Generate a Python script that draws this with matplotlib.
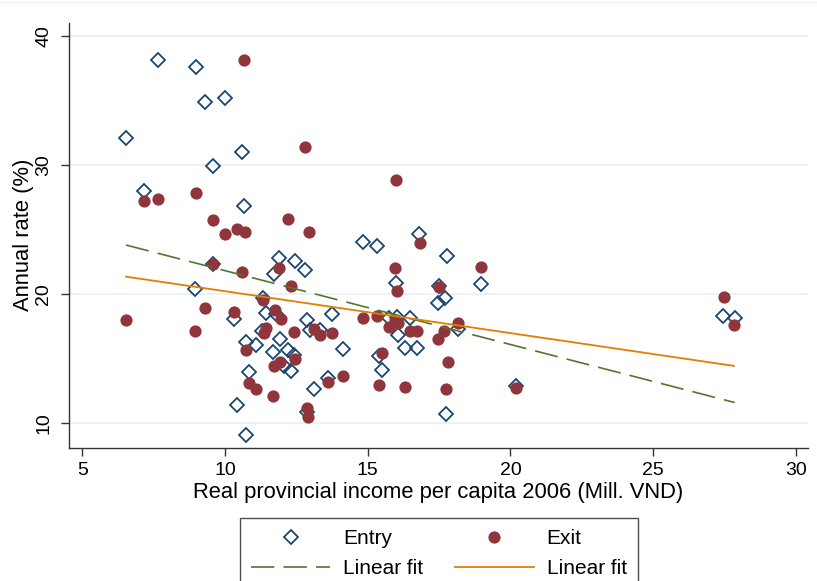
import numpy as np
import matplotlib
matplotlib.use('Agg')
import matplotlib.pyplot as plt
from matplotlib.lines import Line2D

plt.rcParams['font.family'] = ['Liberation Sans', 'DejaVu Sans']

# Entry rates (diamonds)
entry_x = [6.53, 7.64, 7.17, 8.97, 9.30, 9.98, 9.58, 10.59, 10.68, 8.94,
           9.58, 11.89, 12.44, 12.80, 11.72, 11.33, 11.44, 10.32, 12.86, 12.98,
           13.33, 13.73, 10.72, 11.09, 11.93, 11.69, 12.20, 12.43, 12.07, 12.32,
           10.84, 13.12, 10.43, 12.86, 10.73, 13.61, 14.85, 15.34, 16.81, 17.78,
           15.98, 17.48, 18.97, 17.70, 17.45, 16.02, 15.73, 16.48, 18.15, 16.07,
           14.12, 15.40, 16.31, 16.72, 15.51, 20.21, 17.74, 27.46, 27.86, 11.79,
           11.30]
entry_y = [32.09, 38.12, 28.02, 37.63, 34.89, 35.22, 29.96, 31.05, 26.85, 20.38,
           22.35, 22.81, 22.53, 21.82, 21.52, 19.66, 18.49, 18.07, 17.97, 17.23,
           17.23, 18.44, 16.29, 16.01, 16.51, 15.45, 15.61, 15.25, 14.37, 14.03,
           13.97, 12.63, 11.37, 10.81, 9.06, 13.47, 24.03, 23.70, 24.68, 22.97,
           20.82, 20.63, 20.75, 19.64, 19.32, 18.21, 18.13, 18.10, 17.30, 16.82,
           15.70, 15.15, 15.77, 15.78, 14.09, 12.84, 10.65, 18.26, 18.13, 18.44,
           17.12]

# Exit rates (filled circles)
exit_x = [10.68, 12.79, 8.97, 7.64, 7.17, 9.58, 12.21, 9.98, 10.43, 10.71,
          12.95, 6.53, 9.58, 10.59, 11.89, 12.31, 11.34, 9.29, 10.32, 11.76,
          11.97, 8.94, 11.45, 11.38, 12.40, 13.10, 13.31, 13.76, 10.73, 12.44,
          11.94, 11.70, 10.84, 11.09, 11.69, 13.61, 12.86, 12.89, 15.98, 16.82,
          15.96, 18.97, 16.01, 17.51, 14.85, 15.34, 15.96, 16.07, 15.76, 16.48,
          16.73, 18.15, 17.68, 17.47, 15.51, 17.80, 14.12, 15.40, 16.31, 17.74,
          20.21, 27.47, 27.83]
exit_y = [38.15, 31.41, 27.84, 27.37, 27.19, 25.77, 25.82, 24.63, 25.07, 24.79,
          24.77, 17.95, 22.30, 21.68, 21.99, 20.61, 19.55, 18.93, 18.62, 18.75,
          18.03, 17.14, 17.33, 16.94, 17.04, 17.25, 16.81, 16.99, 15.63, 14.94,
          14.71, 14.42, 13.06, 12.59, 12.05, 13.15, 11.17, 10.46, 28.85, 23.93,
          21.99, 22.07, 20.25, 20.51, 18.15, 18.26, 17.97, 17.72, 17.44, 17.12,
          17.12, 17.74, 17.13, 16.51, 15.37, 14.68, 13.64, 12.94, 12.79, 12.65,
          12.67, 19.78, 17.58]

xticks = [5, 10, 15, 20, 25, 30]
yticks = [10, 20, 30, 40]

navy = '#1a476f'
maroon = '#90353b'
green = '#55752f'
orange = '#e37e00'

W, H = 817, 581
fig = plt.figure(figsize=(W / 100, H / 100), dpi=100)
ax = fig.add_axes([69 / W, 1 - 448 / H, 739 / W, 425 / H])

for t in yticks:
    ax.axhline(t, color='#e6eef1', lw=1.1, zorder=0)

ax.plot(entry_x, entry_y, ls='none', marker='D', ms=6.8, mfc='none',
        mec=navy, mew=1.3, zorder=2)
ax.plot(exit_x, exit_y, ls='none', marker='o', ms=8.8, mfc=maroon,
        mec=maroon, mew=0, zorder=3)

ex = np.array(entry_x)
b1, a1 = np.polyfit(ex, entry_y, 1)
xs1 = np.array([ex.min(), ex.max()])
ax.plot(xs1, a1 + b1 * xs1, color=green, lw=1.2, ls=(0, (14, 5.5)), zorder=4)

xx = np.array(exit_x)
b2, a2 = np.polyfit(xx, exit_y, 1)
xs2 = np.array([xx.min(), xx.max()])
ax.plot(xs2, a2 + b2 * xs2, color=orange, lw=1.3, zorder=4)

ax.set_xlim(4.53, 30.43)
ax.set_ylim(8.03, 41.03)
ax.set_xticks(xticks)
ax.set_yticks(yticks)
ax.spines['top'].set_visible(False)
ax.spines['right'].set_visible(False)
for s in ['left', 'bottom']:
    ax.spines[s].set_linewidth(1.0)
    ax.spines[s].set_color('#333333')
ax.tick_params(direction='out', length=6, width=1, color='#333333',
               labelsize=14, pad=4)
for lab in ax.get_yticklabels():
    lab.set_rotation(90)
    lab.set_va('center')
ax.tick_params(axis='y', pad=6)

ax.set_xlabel('Real provincial income per capita 2006 (Mill. VND)',
              fontsize=15.8, labelpad=2)
fig.text(24 / W, 1 - 235 / H, 'Annual rate (%)', rotation=90,
         ha='center', va='center', fontsize=15.8)

# faint outer border line at top
fig.add_artist(Line2D([0, 1], [1 - 2 / H, 1 - 2 / H], color='#eef2f4',
                      lw=1, transform=fig.transFigure))

handles = [
    Line2D([], [], ls='none', marker='D', ms=6.8, mfc='none', mec=navy, mew=1.3),
    Line2D([], [], color=green, lw=1.2, ls=(0, (14, 5.5))),
    Line2D([], [], ls='none', marker='o', ms=8.8, mfc=maroon, mec=maroon, mew=0),
    Line2D([], [], color=orange, lw=1.3),
]
labels = ['Entry', 'Linear fit', 'Exit', 'Linear fit']
leg = fig.legend(handles, labels, ncol=2, loc='upper center',
                 bbox_to_anchor=(439 / W, 1 - 518 / H), fontsize=15,
                 frameon=True, fancybox=False, edgecolor='#222222',
                 handlelength=3.8, handletextpad=0.62, columnspacing=1.5,
                 labelspacing=0.5, borderpad=0.55, numpoints=1,
                 borderaxespad=0)
leg.get_frame().set_linewidth(1.0)

fig.savefig('out.png', dpi=100)
